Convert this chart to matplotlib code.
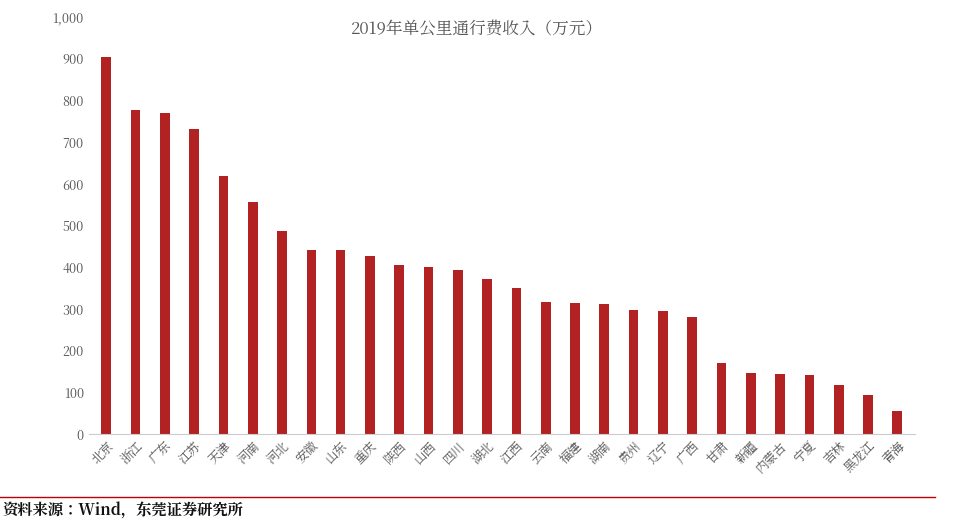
import matplotlib
matplotlib.use("Agg")
import matplotlib.pyplot as plt
from matplotlib import font_manager as fm
from matplotlib.ticker import FuncFormatter

cjk = [f for f in fm.fontManager.ttflist if "CJK" in f.name]
fam = next((f.name for f in cjk if "SC" in f.name), cjk[0].name if cjk else "DejaVu Sans")
plt.rcParams['font.family'] = [fam, 'DejaVu Sans']
plt.rcParams['axes.unicode_minus'] = False

provinces = ["北京","浙江","广东","江苏","天津","河南","河北","安徽","山东","重庆","陕西","山西","四川","湖北",
             "江西","云南","福建","湖南","贵州","辽宁","广西","甘肃","新疆","内蒙古","宁夏","吉林","黑龙江","青海"]
values = [905,778,770,733,620,558,487,442,442,428,405,402,395,372,
          350,317,314,312,298,296,281,172,148,145,143,118,95,55]

fig = plt.figure(figsize=(9.64,5.27), dpi=100)
ax = fig.add_axes([0.092, 0.176, 0.857, 0.791])
ax.bar(range(len(values)), values, width=0.33, color="#B22222")
ax.set_ylim(0,1000)
ax.set_xlim(-0.6, len(values)-0.4)
ax.set_yticks(range(0,1001,100))
ax.yaxis.set_major_formatter(FuncFormatter(lambda v,p: f"{int(v):,}"))
ax.set_xticks(range(len(values)))
ax.set_xticklabels(provinces, rotation=45, ha="right", rotation_mode="anchor", fontsize=9, color="#555555")
ax.tick_params(axis='y', labelsize=9, colors="#555555", length=0)
ax.tick_params(axis='x', length=0)
for s in ["top","right","left"]:
    ax.spines[s].set_visible(False)
ax.spines["bottom"].set_color("#cccccc")
fig.text(0.495, 0.945, "2019年单公里通行费收入（万元）", fontsize=12, color="#555555", ha="center", va="center")
fig.add_artist(plt.Line2D([0.0,0.97],[0.057,0.057], color="#C00000", lw=1, transform=fig.transFigure))
fig.text(0.003, 0.022, "资料来源：Wind，东莞证券研究所", fontsize=11, fontweight="bold", color="#111111")
fig.savefig("out.png", dpi=100)
